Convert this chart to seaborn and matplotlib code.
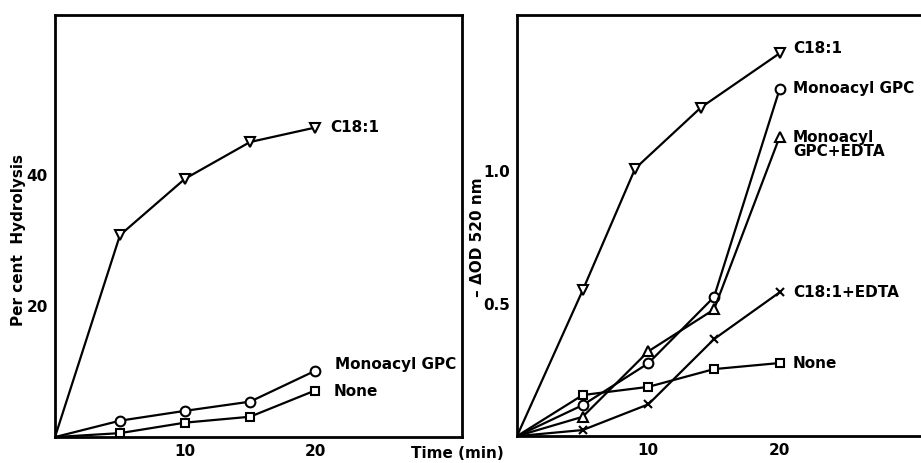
import numpy as np
import pandas as pd
import seaborn as sns
import matplotlib.pyplot as plt

sns.set_theme(style="white")
plt.rcParams["font.family"] = ["DejaVu Sans"]
plt.rcParams["font.weight"] = "bold"
plt.rcParams["text.color"] = "black"

# left panel: percent hydrolysis
t_left = [0, 5, 10, 15, 20]
left_c181 = [0, 30.8, 39.4, 45.0, 47.2]
left_mono = [0, 2.5, 4.0, 5.4, 10.1]
left_none = [0, 0.6, 2.2, 3.1, 7.1]

# right panel: -dOD 520 nm
t_right_c181 = [0, 5, 9, 14, 20]
right_c181 = [0, 0.55, 1.01, 1.24, 1.445]
t_right = [0, 5, 10, 15, 20]
right_mono = [0, 0.117, 0.275, 0.525, 1.31]
right_mono_edta = [0, 0.073, 0.32, 0.478, 1.13]
right_c181_edta = [0, 0.023, 0.12, 0.366, 0.543]
right_none = [0, 0.155, 0.186, 0.253, 0.276]

fig = plt.figure(figsize=(9.21, 4.63), dpi=100)
ax1 = fig.add_axes([0.0597, 0.056, 0.4419, 0.912])
ax2 = fig.add_axes([0.5613, 0.058, 0.445, 0.910])

mk = dict(color="black", linewidth=1.6, markerfacecolor="white",
          markeredgecolor="black", markeredgewidth=1.5, markersize=7,
          markevery=slice(1, None))


def draw(ax, t, v, marker, ms=7):
    kw = dict(mk)
    kw["markersize"] = ms
    sns.lineplot(x=t, y=v, marker=marker, ax=ax, **kw)


draw(ax1, t_left, left_c181, "v")
draw(ax1, t_left, left_mono, "o")
draw(ax1, t_left, left_none, "s", 6)

draw(ax2, t_right_c181, right_c181, "v")
draw(ax2, t_right, right_mono, "o")
draw(ax2, t_right, right_mono_edta, "^")
draw(ax2, t_right, right_c181_edta, "x", 6)
draw(ax2, t_right, right_none, "s", 6)

ax1.set_xlim(0, 31.3)
ax1.set_ylim(0, 64.4)
ax1.set_xticks([10, 20])
ax1.set_yticks([10, 20, 30, 40, 50, 60])
ax1.set_yticklabels(["", "20", "", "40", "", ""])

ax2.set_xlim(0, 31.2)
ax2.set_ylim(0, 1.59)
ax2.set_xticks([10, 20])
ax2.set_yticks([0.5, 1.0])
ax2.set_yticklabels(["0.5", "1.0"])

for ax in (ax1, ax2):
    for sp in ax.spines.values():
        sp.set_color("black")
        sp.set_linewidth(2)
    ax.tick_params(direction="in", length=5, width=1.2, colors="black",
                   labelsize=11, pad=5)
    for lab in ax.get_xticklabels() + ax.get_yticklabels():
        lab.set_fontweight("bold")
    ax.set_xlabel("")
    ax.set_ylabel("")

tk = dict(fontsize=11, fontweight="bold", va="center", ha="left", color="black")
ax1.text(21.2, 47.2, "C18:1", **tk)
ax1.text(21.5, 11.0, "Monoacyl GPC", **tk)
ax1.text(21.4, 7.0, "None", **tk)

ax2.text(21.0, 1.464, "C18:1", **tk)
ax2.text(21.0, 1.313, "Monoacyl GPC", **tk)
ax2.text(21.0, 1.10, "Monoacyl\nGPC+EDTA", linespacing=0.95, **tk)
ax2.text(21.0, 0.543, "C18:1+EDTA", **tk)
ax2.text(21.0, 0.275, "None", **tk)

fig.text(0.497, 0.020, "Time (min)", fontsize=11, fontweight="bold",
         ha="center", va="center", color="black")
fig.text(0.020, 0.482, "Per cent  Hydrolysis", fontsize=11, fontweight="bold",
         rotation=90, ha="center", va="center", color="black")
fig.text(0.518, 0.488, "\u2013 \u0394OD 520 nm", fontsize=11, fontweight="bold",
         rotation=90, ha="center", va="center", color="black")

fig.savefig("out.png", dpi=100)
